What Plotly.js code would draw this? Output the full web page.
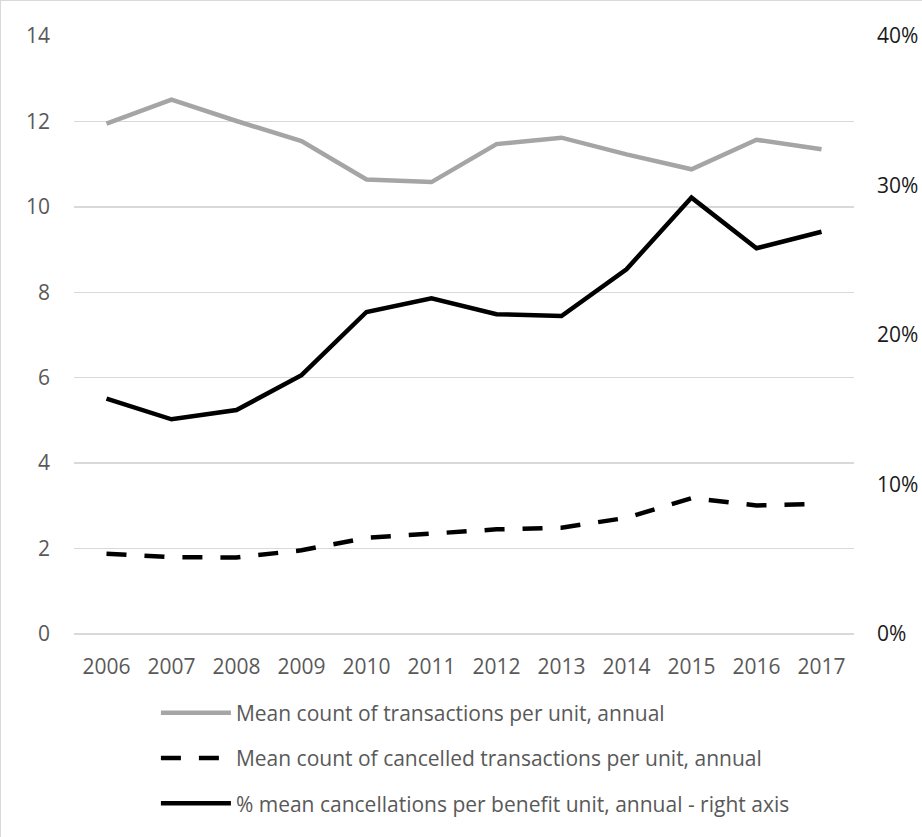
<!DOCTYPE html>
<html>
<head>
<meta charset="utf-8">
<script src="https://cdn.plot.ly/plotly-3.0.1.min.js"></script>
<style>
html,body{margin:0;padding:0;background:#fff;}
#chart{width:922px;height:837px;box-sizing:border-box;border:1px solid #d9d9d9;}
</style>
</head>
<body>
<div id="chart"></div>
<script>
const years = ['2006','2007','2008','2009','2010','2011','2012','2013','2014','2015','2016','2017'];
const meanTransactions = [11.95, 12.51, 12.01, 11.54, 10.64, 10.58, 11.47, 11.62, 11.23, 10.88, 11.57, 11.35];
const meanCancelled = [1.88, 1.80, 1.79, 1.96, 2.25, 2.35, 2.45, 2.49, 2.72, 3.18, 3.01, 3.05];
const pctCancellations = [0.1574, 0.1436, 0.1498, 0.1731, 0.2154, 0.2245, 0.2139, 0.2127, 0.2440, 0.2919, 0.2580, 0.2691];

const seriesNames = [
  'Mean count of transactions per unit, annual',
  'Mean count of cancelled transactions per unit, annual',
  '% mean cancellations per benefit unit, annual - right axis'
];

const traces = [
  {x: years, y: meanTransactions, name: seriesNames[0], type: 'scatter', mode: 'lines',
   line: {color: '#a5a5a5', width: 4.5}, legendgroup: 'a', yaxis: 'y'},
  {x: years, y: meanCancelled, name: seriesNames[1], type: 'scatter', mode: 'lines',
   line: {color: '#000000', width: 4.5, dash: '20px,18px'}, legendgroup: 'b', yaxis: 'y'},
  {x: years, y: pctCancellations, name: seriesNames[2], type: 'scatter', mode: 'lines',
   line: {color: '#000000', width: 4.5}, legendgroup: 'c', yaxis: 'y2'}
];

const layout = {
  width: 922, height: 837,
  margin: {l: 73, r: 69, t: 35, b: 204},
  paper_bgcolor: '#ffffff', plot_bgcolor: '#ffffff',
  font: {family: '"Open Sans", sans-serif', size: 21, color: '#595959'},
  showlegend: true,
  legend: {x: 0.105, xanchor: 'left', y: -0.098, yanchor: 'top', traceorder: 'grouped',
           tracegroupgap: 15, itemwidth: 70, font: {size: 21, color: '#595959'}, bgcolor: 'rgba(0,0,0,0)'},
  xaxis: {type: 'category', range: [-0.5, 11.5], showgrid: false, zeroline: false, showline: false,
          ticks: '', ticklabelstandoff: 18, tickfont: {size: 21, color: '#595959'}},
  yaxis: {range: [0, 14], dtick: 2, tick0: 0, showgrid: true, gridcolor: '#d9d9d9', gridwidth: 1.5,
          zeroline: true, zerolinecolor: '#d9d9d9', zerolinewidth: 1.5, showline: false,
          ticks: '', ticklabelstandoff: 23, tickfont: {size: 21, color: '#595959'}},
  yaxis2: {range: [0, 0.4], dtick: 0.1, tick0: 0, tickformat: '.0%', overlaying: 'y', side: 'right',
           showgrid: false, zeroline: false, showline: false, ticks: '', ticklabelstandoff: 22,
           tickfont: {size: 21, color: '#1a1a1a'}}
};

Plotly.newPlot('chart', traces, layout, {displayModeBar: false, staticPlot: true});
</script>
</body>
</html>
